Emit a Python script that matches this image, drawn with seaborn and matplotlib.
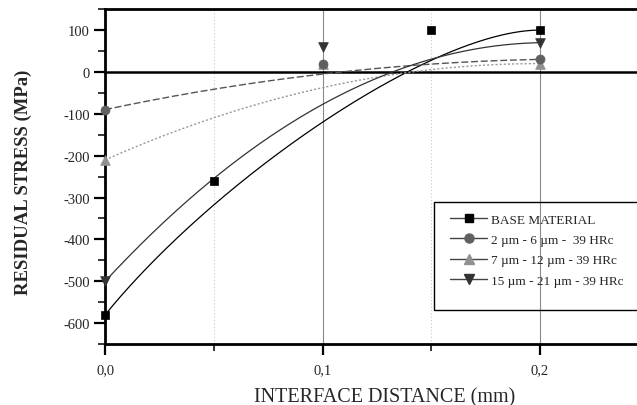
import numpy as np
import pandas as pd
import matplotlib
matplotlib.use("Agg")
import matplotlib.pyplot as plt
from matplotlib.lines import Line2D
from matplotlib.patches import Rectangle
from math import comb
import seaborn as sns

# ---- data ----
series_names = ["BASE MATERIAL", "2 \u00b5m - 6 \u00b5m -  39 HRc",
                "7 \u00b5m - 12 \u00b5m - 39 HRc", "15 \u00b5m - 21 \u00b5m - 39 HRc"]
x_base = [0.0, 0.05, 0.15, 0.2]
y_base = [-580, -260, 100, 100]
x_s1 = [0.0, 0.1, 0.2]
y_s1 = [-90, 20, 30]
x_s2 = [0.0, 0.1, 0.2]
y_s2 = [-210, 20, 20]
x_s3 = [0.0, 0.1, 0.2]
y_s3 = [-500, 60, 70]

xticks = [0.0, 0.1, 0.2]
xtick_labels = ["0,0", "0,1", "0,2"]
yticks = [100, 0, -100, -200, -300, -400, -500, -600]
ytick_labels = ["100", "0", "-100", "-200", "-300", "-400", "-500", "-600"]

sns.set_style("ticks")
plt.rcParams["font.family"] = ["Liberation Serif", "DejaVu Serif"]
plt.rcParams["axes.unicode_minus"] = False

fig = plt.figure(figsize=(6.37, 4.06), dpi=100)
ax = fig.add_axes([0.165, 0.150, 0.835, 0.825])


def bspline_curve(xs, ys, n=300):
    """Bezier (B-spline) curve using the data points as control points."""
    xs = np.asarray(xs, float)
    ys = np.asarray(ys, float)
    k = len(xs) - 1
    t = np.linspace(0, 1, n)
    B = np.array([comb(k, i) * t**i * (1 - t)**(k - i) for i in range(k + 1)])
    return B.T @ xs, B.T @ ys


styles = [
    dict(color="black", ls="-", lw=0.9, marker="s", mc="black", ms=6.3),
    dict(color="#555555", ls=(0, (5, 2)), lw=1.0, marker="o", mc="#606060", ms=6.5),
    dict(color="#999999", ls=(0, (1.5, 1.5)), lw=1.0, marker="^", mc="#909090", ms=7),
    dict(color="#333333", ls="-", lw=0.9, marker="v", mc="#333333", ms=7),
]
data = [(x_base, y_base), (x_s1, y_s1), (x_s2, y_s2), (x_s3, y_s3)]

# grid lines
for gx in [0.1, 0.2]:
    ax.axvline(gx, color="#8a8a8a", lw=0.8, zorder=1)
for gx in [0.05, 0.15]:
    ax.axvline(gx, color="#c8c8c8", lw=0.8, ls=(0, (1, 2)), zorder=1)
ax.axhline(0, color="black", lw=1.8, zorder=2)

# curves
for (xs, ys), st in zip(data, styles):
    bx, by = bspline_curve(xs, ys)
    sns.lineplot(x=bx, y=by, sort=False, ax=ax, color=st["color"],
                 linestyle=st["ls"], lw=st["lw"], zorder=3)

# markers (draw circles last so they sit on top)
for idx in [0, 2, 3, 1]:
    xs, ys = data[idx]
    st = styles[idx]
    df = pd.DataFrame({"x": xs, "y": ys})
    sns.scatterplot(data=df, x="x", y="y", ax=ax, marker=st["marker"],
                    color=st["mc"], s=st["ms"] ** 2, edgecolor=st["mc"],
                    linewidth=0.5, zorder=4, clip_on=False)

ax.set_xlim(0, 0.2446)
ax.set_ylim(-650, 150)
ax.set_xticks(xticks)
ax.set_xticklabels(xtick_labels)
ax.set_yticks(yticks)
ax.set_yticklabels(ytick_labels)
ax.set_xticks([0.05, 0.15], minor=True)
ax.set_yticks(np.arange(-650, 151, 50), minor=True)
ax.tick_params(axis="both", which="major", direction="out", length=8, width=1.6,
               labelsize=10.5, color="black")
ax.tick_params(axis="both", which="minor", direction="out", length=5, width=1.3)
ax.tick_params(axis="x", which="major", pad=6)
ax.tick_params(axis="y", which="major", pad=3)

for side in ["left", "bottom", "top"]:
    ax.spines[side].set_linewidth(2.0)
    ax.spines[side].set_color("black")
ax.spines["right"].set_visible(False)

ax.set_xlabel("INTERFACE DISTANCE (mm)", fontsize=14.5)
ax.set_ylabel("RESIDUAL STRESS (MPa)", fontsize=13.5, fontweight="bold")
ax.xaxis.set_label_coords(0.526, -0.128)
ax.yaxis.set_label_coords(-0.138, 0.485)

# legend
handles = []
for name, st in zip(series_names, styles):
    handles.append(Line2D([0], [0], color="#444444", lw=1.0, ls="-",
                          marker=st["marker"], markersize=st["ms"],
                          markerfacecolor=st["mc"], markeredgecolor=st["mc"],
                          label=name))
leg = ax.legend(handles=handles, loc="upper left", bbox_to_anchor=(0.632, 0.418),
                frameon=False, fontsize=9.5, handlelength=2.8, handletextpad=0.3,
                labelspacing=0.62, borderaxespad=0.3)
ax.add_patch(Rectangle((0.618, 0.101), 0.6, 0.323, transform=ax.transAxes,
                       fill=False, lw=1.0, edgecolor="black", zorder=5,
                       clip_on=False))

fig.savefig("out.png", dpi=100)
